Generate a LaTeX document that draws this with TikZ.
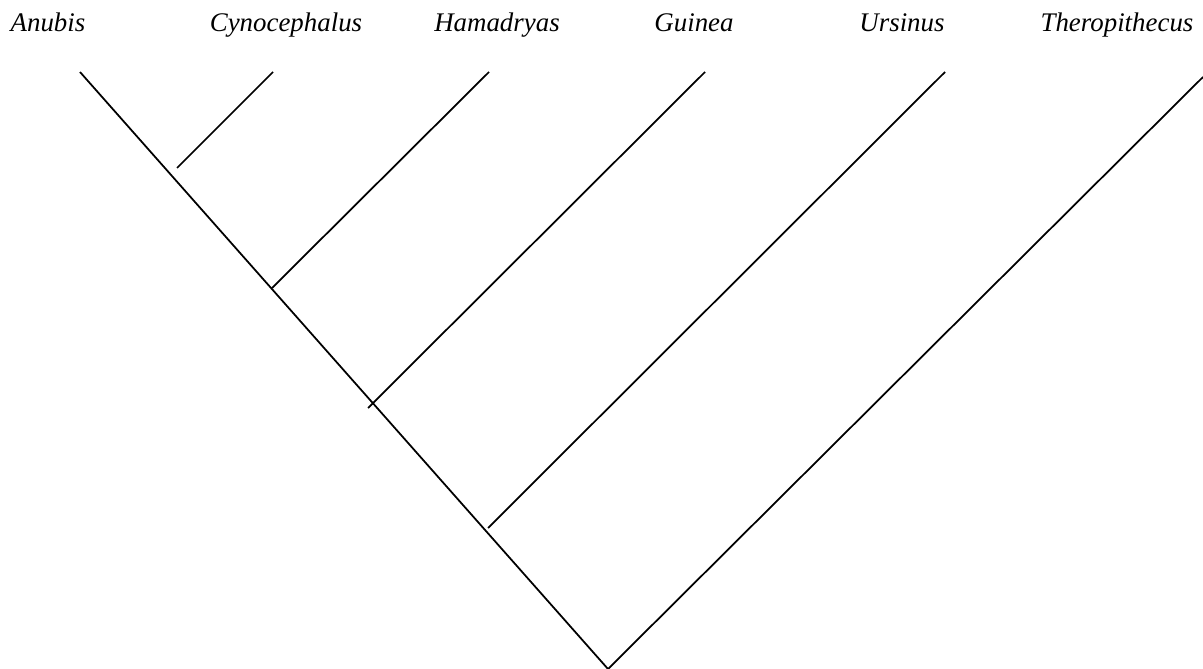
\documentclass[tikz,border=0pt]{standalone}
\usepackage{fontspec}
\setmainfont{Liberation Serif}
\begin{document}
\begin{tikzpicture}[x=0.02cm, y=-0.02cm,
                every node/.style = {font=\fontsize{15.3}{18}\selectfont\itshape,
                        anchor=base, inner sep=0pt
                    },
                branch/.style = {line width=1pt}]
            \useasboundingbox (0,0) rectangle (1203,669);
            % taxa
            \node (anubis) at (48,32) {Anubis};
            \node (cyno)   at (286,32) {Cynocephalus};
            \node (hama)   at (497,32) {Hamadryas};
            \node (guinea) at (694,32) {Guinea};
            \node (urs)    at (902,32) {Ursinus};
            \node (thero)  at (1117,32) {Theropithecus};
            % tips and joints
            \coordinate (anubisTip) at (80,72);
            \coordinate (cynoTip)   at (273,72);
            \coordinate (hamaTip)   at (489,72);
            \coordinate (guineaTip) at (705,72);
            \coordinate (ursTip)    at (945,72);
            \coordinate (theroTip)  at (1203,77);
            \coordinate (cynoEnd)   at (177,168);
            \coordinate (hamaEnd)   at (272,288);
            \coordinate (guineaEnd) at (368,408);
            \coordinate (ursEnd)    at (488,528);
            \coordinate (root)      at (608,669);
            % tree
            \draw[branch] (anubisTip) -- (root) -- (theroTip);
            \draw[branch] (cynoTip) -- (cynoEnd);
            \draw[branch] (hamaTip) -- (hamaEnd);
            \draw[branch] (guineaTip) -- (guineaEnd);
            \draw[branch] (ursTip) -- (ursEnd);
        \end{tikzpicture}
\end{document}
